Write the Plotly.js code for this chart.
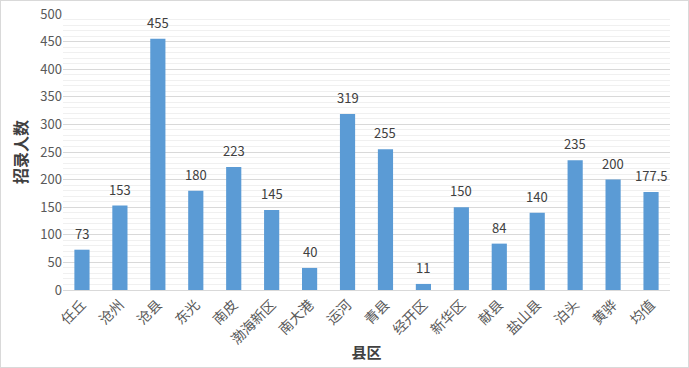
<!DOCTYPE html>
<html><head><meta charset="utf-8">
<script src="https://cdn.plot.ly/plotly-3.0.1.min.js"></script>
<style>html,body{margin:0;padding:0;background:#fff;}#c{width:687px;height:366px;border:1px solid #d9d9d9;}</style>
</head><body><div id="c"></div>
<script>
const categories = ['任丘','沧州','沧县','东光','南皮','渤海新区','南大港','运河','青县','经开区','新华区','献县','盐山县','泊头','黄骅','均值'];
const values = [73,153,455,180,223,145,40,319,255,11,150,84,140,235,200,177.5];
const labels = ['73','153','455','180','223','145','40','319','255','11','150','84','140','235','200','177.5'];
const yTicks = [0,50,100,150,200,250,300,350,400,450,500];
const fontFam = '"Noto Sans CJK SC", "DejaVu Sans", sans-serif';
const annotations = categories.map((c,i)=>({
  x:c, y:values[i], text:labels[i], showarrow:false, yanchor:'bottom', yshift:5,
  font:{family:fontFam, size:13, color:'#404040'}
}));
Plotly.newPlot('c', [{
  type:'bar', x:categories, y:values,
  marker:{color:'#5b9bd5'}, hoverinfo:'none'
}], {
  width:687, height:366,
  margin:{l:62, r:18, t:13, b:77},
  paper_bgcolor:'#fff', plot_bgcolor:'#fff',
  bargap:0.6, showlegend:false,
  annotations:annotations,
  xaxis:{tickangle:-45, tickfont:{family:fontFam, size:14, color:'#595959'},
    showline:true, linecolor:'#d9d9d9', ticks:'',
    title:{text:'<b>县区</b>', font:{family:fontFam, size:15, color:'#404040'}, standoff:0}},
  yaxis:{range:[0,500], tickvals:yTicks, ticktext:yTicks.map(String),
    tickfont:{family:fontFam, size:13, color:'#595959'},
    gridcolor:'#d9d9d9', zeroline:false, showline:false, ticks:'',
    minor:{dtick:10, showgrid:true, gridcolor:'#f0f0f0'},
    title:{text:'<b>招录人数</b>', font:{family:fontFam, size:16, color:'#404040'}, standoff:8}},
  font:{family:fontFam}
}, {staticPlot:true});
</script></body></html>
